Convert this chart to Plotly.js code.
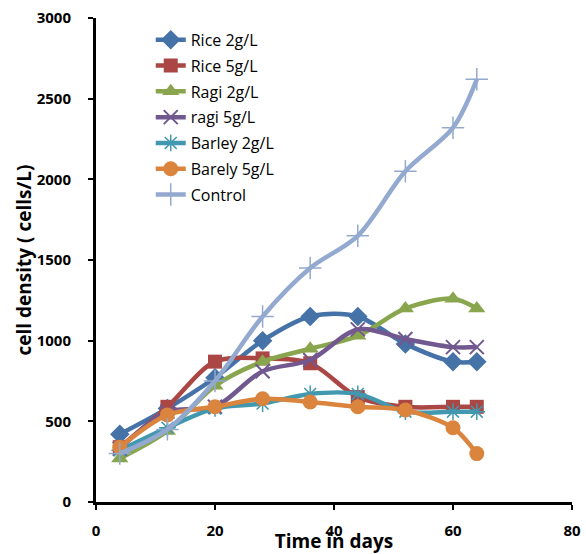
<!DOCTYPE html>
<html>
<head>
<meta charset="utf-8">
<script src="https://cdn.plot.ly/plotly-3.0.1.min.js"></script>
<style>html,body{margin:0;padding:0;background:#fff;}#chart{width:586px;height:554px;}</style>
</head>
<body>
<div id="chart"></div>
<script>
const days = [4, 12, 20, 28, 36, 44, 52, 60, 64];
const rice2 = [420, 580, 770, 1000, 1150, 1150, 980, 870, 870];
const rice5 = [340, 590, 870, 890, 860, 650, 590, 590, 590];
const ragi2 = [270, 440, 720, 870, 950, 1030, 1200, 1260, 1200];
const ragi5 = [330, 560, 590, 810, 880, 1070, 1010, 960, 960];
const barley2 = [320, 460, 580, 610, 670, 670, 560, 560, 560];
const barely5 = [340, 540, 590, 640, 620, 590, 570, 460, 300];
const control = [300, 450, 750, 1150, 1450, 1650, 2050, 2320, 2620];
const xTicks = [0, 20, 40, 60, 80];
const yTicks = [0, 500, 1000, 1500, 2000, 2500, 3000];

const font = '"Open Sans", "Liberation Sans", sans-serif';
function tr(name, y, color, symbol, size, lw) {
  return {
    x: days, y: y, name: name, legendgroup: name, type: 'scatter', mode: 'lines+markers',
    line: {color: color, width: 4.5, shape: 'spline', smoothing: 0.9},
    marker: {color: color, symbol: symbol, size: size, line: {color: color, width: lw || 0}}
  };
}
const data = [
  tr('Rice 2g/L', rice2, '#4572A7', 'diamond', 15),
  tr('Rice 5g/L', rice5, '#AA4643', 'square', 14),
  tr('Ragi 2g/L', ragi2, '#89A54E', 'triangle-up', 15),
  tr('ragi 5g/L', ragi5, '#71588F', 'x-thin-open', 14, 2),
  tr('Barley 2g/L', barley2, '#4198AF', 'asterisk-open', 14, 1.5),
  tr('Barely 5g/L', barely5, '#DB843D', 'circle', 15),
  tr('Control', control, '#93A9CF', 'cross-thin-open', 16, 1.5)
];
const layout = {
  width: 586, height: 554,
  margin: {l: 96, r: 14, t: 18, b: 52},
  paper_bgcolor: '#fff', plot_bgcolor: '#fff',
  showlegend: true,
  legend: {x: 0.115, y: 0.99, xanchor: 'left', yanchor: 'top', bgcolor: 'rgba(0,0,0,0)',
    font: {family: font, size: 16, color: '#000'}, tracegroupgap: 2},
  xaxis: {
    range: [0, 80], tickvals: xTicks, ticktext: xTicks.map(String),
    showgrid: false, zeroline: false, showline: true, linecolor: '#000', linewidth: 3,
    ticks: 'outside', ticklen: 5, tickwidth: 2, tickcolor: '#000',
    tickfont: {family: font, size: 15, color: '#000', weight: 'bold'}, ticklabelstandoff: 8,
    title: {text: '<b>Time in days</b>', font: {family: font, size: 19, color: '#000'}, standoff: 3}
  },
  yaxis: {
    range: [0, 3000], tickvals: yTicks, ticktext: yTicks.map(String),
    showgrid: false, zeroline: false, showline: true, linecolor: '#000', linewidth: 3,
    ticks: 'outside', ticklen: 5, tickwidth: 2, tickcolor: '#000',
    tickfont: {family: font, size: 15, color: '#000', weight: 'bold'}, ticklabelstandoff: 14,
    title: {text: '<b>cell density ( cells/L)</b>', font: {family: font, size: 19, color: '#000'}, standoff: 0}
  }
};
Plotly.newPlot('chart', data, layout, {displayModeBar: false, staticPlot: true});
</script>
</body>
</html>
